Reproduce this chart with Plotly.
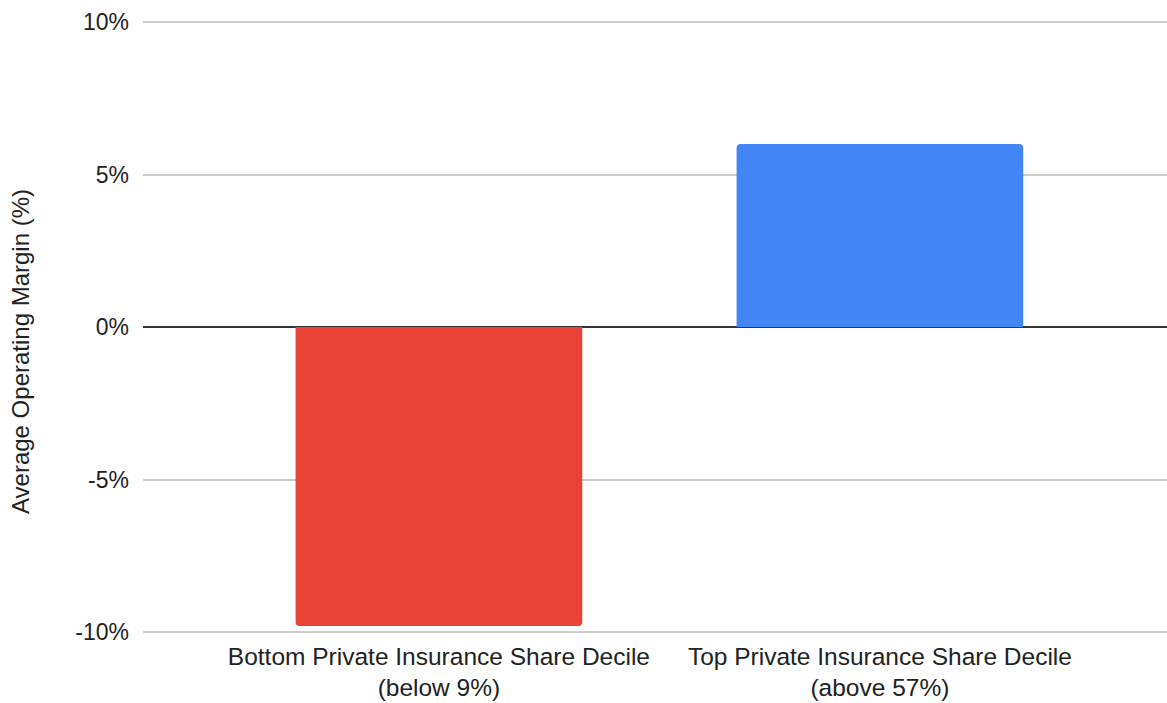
import plotly.graph_objects as go

categories = ["Bottom Private Insurance Share Decile<br>(below 9%)",
              "Top Private Insurance Share Decile<br>(above 57%)"]
margins_pct = [-9.8, 6.0]
bar_colors = ["#EA4335", "#4285F4"]
tick_values = [-10, -5, 0, 5, 10]
tick_labels = ["-10%", "-5%", "0%", "5%", "10%"]
y_title = "Average Operating Margin (%)"

FONT = "Liberation Sans, Arial, sans-serif"
TXT = "#222222"

W, H = 1167, 703
ML, MR, MT, MB = 143, 0, 20, 69
plot_h = H - MT - MB
px_per_unit = 30.5
half = plot_h / 2 / px_per_unit

xs = list(range(len(categories)))

fig = go.Figure()
fig.add_trace(go.Bar(
    x=xs,
    y=margins_pct,
    marker=dict(color=bar_colors, line=dict(width=0), cornerradius=4),
    width=0.65,
    hoverinfo="skip",
))

fig.update_layout(
    width=W, height=H,
    margin=dict(l=ML, r=MR, t=MT, b=MB),
    plot_bgcolor="white", paper_bgcolor="white",
    showlegend=False,
    font=dict(family=FONT, size=24, color=TXT),
    xaxis=dict(
        range=[-0.671, 1.651],
        tickmode="array",
        tickvals=xs,
        ticktext=categories,
        showgrid=False, zeroline=False, showline=False,
        ticks="", tickfont=dict(size=24.5, color=TXT),
        ticklabelstandoff=5,
    ),
    yaxis=dict(
        range=[-half, half],
        tickmode="array",
        tickvals=tick_values,
        ticktext=tick_labels,
        showgrid=True, gridcolor="#cccccc", gridwidth=1.5,
        zeroline=True, zerolinecolor="#333333", zerolinewidth=1.5,
        showline=False, ticks="",
        tickfont=dict(size=23, color=TXT),
        ticklabelstandoff=13,
    ),
    annotations=[dict(
        text=y_title, textangle=-90,
        xref="paper", yref="paper",
        x=(20 - ML) / (W - ML - MR), y=(H - 352 - MB) / plot_h,
        xanchor="center", yanchor="middle",
        showarrow=False,
        font=dict(family=FONT, size=24, color=TXT),
    )],
)

fig.write_html("out.html")
